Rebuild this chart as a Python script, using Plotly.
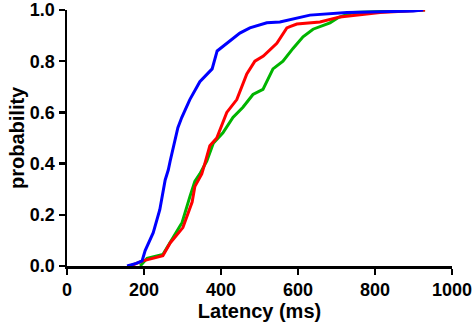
import plotly.graph_objects as go

# Latency (ms) and cumulative probability for each series
blue_x = [156, 180, 195, 203, 224, 241, 255, 263, 268, 276, 288, 298, 319, 345, 363, 377, 390, 416, 449, 475, 519, 553, 597, 631, 727, 899, 925]
blue_y = [0.0, 0.01, 0.02, 0.06, 0.13, 0.22, 0.336, 0.375, 0.41, 0.46, 0.54, 0.58, 0.65, 0.72, 0.75, 0.77, 0.84, 0.87, 0.91, 0.93, 0.95, 0.953, 0.969, 0.98, 0.99, 0.996, 1.0]

red_x = [164, 197, 249, 268, 301, 325, 332, 350, 358, 371, 389, 415, 441, 467, 488, 510, 545, 571, 579, 597, 657, 709, 813, 930]
red_y = [0.0, 0.02, 0.04, 0.09, 0.15, 0.25, 0.31, 0.36, 0.40, 0.47, 0.50, 0.60, 0.65, 0.75, 0.80, 0.82, 0.87, 0.93, 0.935, 0.945, 0.953, 0.973, 0.99, 1.0]

green_x = [190, 208, 249, 272, 299, 319, 332, 345, 363, 380, 405, 431, 457, 483, 509, 535, 561, 587, 605, 613, 639, 683, 704, 743, 831, 930]
green_y = [0.0, 0.03, 0.045, 0.10, 0.17, 0.27, 0.33, 0.36, 0.41, 0.48, 0.52, 0.58, 0.62, 0.67, 0.69, 0.77, 0.80, 0.85, 0.88, 0.895, 0.925, 0.95, 0.97, 0.99, 0.995, 1.0]

x_ticks = [0, 200, 400, 600, 800, 1000]
y_ticks = [0.0, 0.2, 0.4, 0.6, 0.8, 1.0]

FAM = "Liberation Sans, Arial, sans-serif"

fig = go.Figure()
fig.add_trace(go.Scatter(x=green_x, y=green_y, mode="lines", line=dict(color="#00b400", width=3)))
fig.add_trace(go.Scatter(x=red_x, y=red_y, mode="lines", line=dict(color="#ff0000", width=3)))
fig.add_trace(go.Scatter(x=blue_x, y=blue_y, mode="lines", line=dict(color="#0000ff", width=3)))

fig.update_layout(
    width=475, height=331,
    margin=dict(l=67, r=23, t=10, b=65),
    paper_bgcolor="white", plot_bgcolor="white",
    showlegend=False,
    font=dict(family=FAM, size=18, color="black"),
    annotations=[dict(
        text="<b>probability</b>", textangle=-90, showarrow=False,
        xref="paper", yref="paper", x=-50 / 385, y=0.5,
        xanchor="center", yanchor="middle",
        font=dict(family=FAM, size=20, color="black"),
    )],
)
fig.update_xaxes(
    range=[0, 1000], tickvals=x_ticks, ticks="outside", ticklen=6, tickwidth=2.5,
    tickcolor="black", showline=True, linecolor="black", linewidth=2.5,
    showgrid=False, zeroline=False, automargin=False,
    tickfont=dict(family=FAM, size=18, color="black", weight="bold"),
    title=dict(text="<b>Latency (ms)</b>", font=dict(family=FAM, size=20), standoff=5),
)
fig.update_yaxes(
    range=[0, 1.0], tickvals=y_ticks, tickformat=".1f", ticks="outside", ticklen=6, tickwidth=2.5,
    tickcolor="black", showline=True, linecolor="black", linewidth=2.5,
    showgrid=False, zeroline=False, automargin=False,
    tickfont=dict(family=FAM, size=18, color="black", weight="bold"),
)

fig.write_html(
    "out.html",
    config={"displayModeBar": False, "staticPlot": True},
    post_script="document.body.style.margin='0px';document.body.style.padding='0px';",
)
